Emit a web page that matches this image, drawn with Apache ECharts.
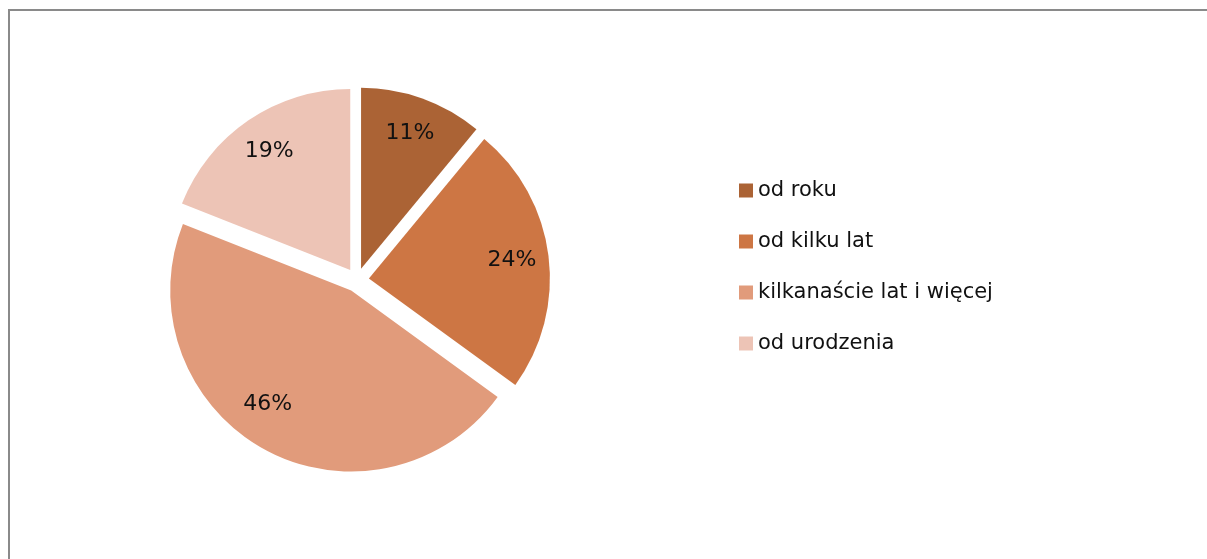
<!DOCTYPE html>
<html lang="pl">
<head>
    <meta charset="utf-8">
    <title>Pie</title>
    <script src="https://cdn.jsdelivr.net/npm/echarts@6/dist/echarts.min.js"></script>
    <style>
        html, body { margin: 0; padding: 0; background: #fff; }
        #chart { width: 1207px; height: 559px; }
    </style>
</head>
<body>
<div id="chart"></div>
<script>
    // dane z wykresu
    var categories = ['od roku', 'od kilku lat', 'kilkanaście lat i więcej', 'od urodzenia'];
    var values = [11, 24, 46, 19];
    var colors = ['#ab6335', '#cd7644', '#e19b7b', '#edc4b6'];

    var chart = echarts.init(document.getElementById('chart'));

    var R = 181;
    var center = [357, 280];

    var pieData = categories.map(function (name, i) {
        return { name: name, value: values[i], selected: true, itemStyle: { color: colors[i] } };
    });
    // przezroczysta nakładka tylko dla etykiet (pozycja ok. 0.78 promienia)
    var labelData = categories.map(function (name, i) {
        return { name: name, value: values[i], selected: true };
    });

    var option = {
        animation: false,
        graphic: [{
            type: 'rect',
            shape: { x: 9, y: 10, width: 1230, height: 600 },
            style: { fill: 'none', stroke: '#8a8a8a', lineWidth: 2 },
            silent: true
        }],
        legend: {
            orient: 'vertical',
            left: 739,
            top: 180,
            padding: 0,
            itemWidth: 14,
            itemHeight: 14,
            itemGap: 30,
            icon: 'rect',
            data: categories,
            selectedMode: false,
            textStyle: { fontFamily: 'DejaVu Sans', fontSize: 21, color: '#111' }
        },
        series: [
            {
                type: 'pie',
                center: center,
                radius: [0, R],
                startAngle: 90,
                clockwise: true,
                selectedMode: 'multiple',
                selectedOffset: 12,
                label: { show: false },
                labelLine: { show: false },
                emphasis: { disabled: true },
                data: pieData
            },
            {
                type: 'pie',
                center: center,
                radius: [R * 0.56, R],
                startAngle: 90,
                clockwise: true,
                selectedMode: 'multiple',
                selectedOffset: 12,
                silent: true,
                legendHoverLink: false,
                itemStyle: { color: 'rgba(0,0,0,0)' },
                label: {
                    show: true,
                    position: 'inside',
                    formatter: '{c}%',
                    fontFamily: 'DejaVu Sans',
                    fontSize: 22,
                    color: '#111'
                },
                labelLayout: function (params) {
                    // etykieta największego wycinka lekko przesunięta jak w oryginale
                    if (params.dataIndex === 2) return { dx: -14, dy: -13 };
                    return {};
                },
                labelLine: { show: false },
                emphasis: { disabled: true },
                data: labelData
            }
        ]
    };

    chart.setOption(option);
</script>
</body>
</html>
